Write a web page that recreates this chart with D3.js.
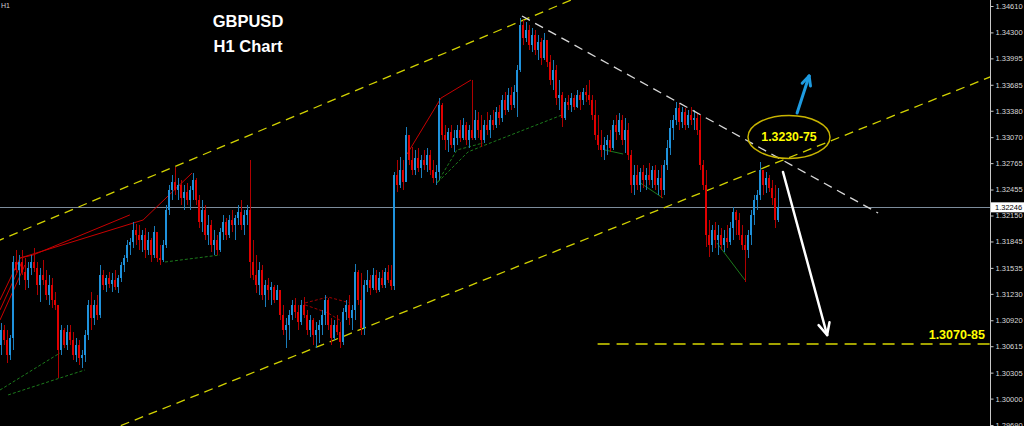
<!DOCTYPE html>
<html><head><meta charset="utf-8">
<script src="https://cdn.jsdelivr.net/npm/d3@7"></script>
<style>html,body{margin:0;padding:0;background:#000;overflow:hidden}svg{display:block}</style>
</head><body>
<svg id="chart" width="1024" height="426"></svg>
<script>
// ---------- DATA (GBPUSD H1) ----------
const closes = [
1.3081,1.3069,1.3051,1.3071,1.3160,1.3151,1.3160,1.3149,1.3139,1.3153,
1.3160,1.3153,1.3133,1.3145,1.3139,1.3122,1.3133,1.3116,1.3110,1.3057,
1.3081,1.3063,1.3078,1.3069,1.3051,1.3063,1.3048,1.3051,1.3075,1.3110,
1.3095,1.3110,1.3098,1.3145,1.3133,1.3142,1.3135,1.3139,1.3131,1.3142,
1.3157,1.3165,1.3180,1.3184,1.3198,1.3192,1.3186,1.3192,1.3175,1.3186,
1.3169,1.3196,1.3165,1.3163,1.3180,1.3221,1.3245,1.3254,1.3245,1.3251,
1.3236,1.3243,1.3233,1.3245,1.3257,1.3233,1.3207,1.3221,1.3192,1.3204,
1.3180,1.3186,1.3175,1.3196,1.3207,1.3192,1.3210,1.3204,1.3212,1.3219,
1.3204,1.3216,1.3221,1.3160,1.3145,1.3133,1.3151,1.3122,1.3133,1.3128,
1.3131,1.3116,1.3128,1.3098,1.3081,1.3086,1.3098,1.3110,1.3102,1.3090,
1.3110,1.3098,1.3081,1.3092,1.3075,1.3081,1.3086,1.3098,1.3116,1.3086,
1.3071,1.3086,1.3078,1.3066,1.3102,1.3110,1.3095,1.3104,1.3149,1.3116,
1.3083,1.3133,1.3139,1.3130,1.3145,1.3128,1.3142,1.3133,1.3149,1.3139,
1.3132,1.3263,1.3251,1.3268,1.3254,1.3310,1.3280,1.3268,1.3283,1.3271,
1.3280,1.3274,1.3286,1.3268,1.3259,1.3266,1.3345,1.3310,1.3304,1.3313,
1.3298,1.3306,1.3315,1.3306,1.3321,1.3304,1.3315,1.3306,1.3327,1.3315,
1.3304,1.3321,1.3315,1.3327,1.3321,1.3337,1.3329,1.3351,1.3339,1.3356,
1.3345,1.3360,1.3386,1.3439,1.3423,1.3433,1.3415,1.3427,1.3409,1.3419,
1.3400,1.3421,1.3395,1.3374,1.3386,1.3353,1.3356,1.3329,1.3348,1.3345,
1.3353,1.3342,1.3356,1.3351,1.3360,1.3356,1.3351,1.3333,1.3310,1.3298,
1.3292,1.3298,1.3304,1.3294,1.3321,1.3313,1.3327,1.3304,1.3315,1.3286,
1.3251,1.3263,1.3251,1.3266,1.3257,1.3263,1.3257,1.3268,1.3251,1.3259,
1.3245,1.3274,1.3294,1.3318,1.3327,1.3341,1.3325,1.3337,1.3321,1.3333,
1.3327,1.3329,1.3315,1.3274,1.3251,1.3192,1.3180,1.3198,1.3186,1.3192,
1.3180,1.3189,1.3184,1.3200,1.3219,1.3210,1.3192,1.3180,1.3175,1.3192,
1.3216,1.3233,1.3239,1.3268,1.3251,1.3259,1.3247,1.3236,1.3210,1.32246
];
const opens = [
1.3063,1.3081,1.3069,1.3051,1.3071,1.3160,1.3151,1.3160,1.3149,1.3139,
1.3153,1.3160,1.3153,1.3133,1.3145,1.3139,1.3122,1.3133,1.3116,1.3110,
1.3057,1.3081,1.3063,1.3078,1.3069,1.3051,1.3063,1.3048,1.3051,1.3075,
1.3110,1.3095,1.3110,1.3098,1.3145,1.3133,1.3142,1.3135,1.3139,1.3131,
1.3142,1.3157,1.3165,1.3180,1.3184,1.3198,1.3192,1.3186,1.3192,1.3175,
1.3186,1.3169,1.3196,1.3165,1.3163,1.3180,1.3221,1.3245,1.3254,1.3245,
1.3251,1.3236,1.3243,1.3233,1.3245,1.3257,1.3233,1.3207,1.3221,1.3192,
1.3204,1.3180,1.3186,1.3175,1.3196,1.3207,1.3192,1.3210,1.3204,1.3212,
1.3219,1.3204,1.3216,1.3221,1.3160,1.3145,1.3133,1.3151,1.3122,1.3133,
1.3128,1.3131,1.3116,1.3128,1.3098,1.3081,1.3086,1.3098,1.3110,1.3102,
1.3090,1.3110,1.3098,1.3081,1.3092,1.3075,1.3081,1.3086,1.3098,1.3116,
1.3086,1.3071,1.3086,1.3078,1.3066,1.3102,1.3110,1.3095,1.3104,1.3149,
1.3116,1.3083,1.3133,1.3139,1.3130,1.3145,1.3128,1.3142,1.3133,1.3149,
1.3139,1.3132,1.3263,1.3251,1.3268,1.3254,1.3310,1.3280,1.3268,1.3283,
1.3271,1.3280,1.3274,1.3286,1.3268,1.3259,1.3266,1.3345,1.3310,1.3304,
1.3313,1.3298,1.3306,1.3315,1.3306,1.3321,1.3304,1.3315,1.3306,1.3327,
1.3315,1.3304,1.3321,1.3315,1.3327,1.3321,1.3337,1.3329,1.3351,1.3339,
1.3356,1.3345,1.3360,1.3386,1.3439,1.3423,1.3433,1.3415,1.3427,1.3409,
1.3419,1.3400,1.3421,1.3395,1.3374,1.3386,1.3353,1.3356,1.3329,1.3348,
1.3345,1.3353,1.3342,1.3356,1.3351,1.3360,1.3356,1.3351,1.3333,1.3310,
1.3298,1.3292,1.3298,1.3304,1.3294,1.3321,1.3313,1.3327,1.3304,1.3315,
1.3286,1.3251,1.3263,1.3251,1.3266,1.3257,1.3263,1.3257,1.3268,1.3251,
1.3259,1.3245,1.3274,1.3294,1.3318,1.3327,1.3341,1.3325,1.3337,1.3321,
1.3333,1.3327,1.3329,1.3315,1.3274,1.3251,1.3192,1.3180,1.3198,1.3186,
1.3192,1.3180,1.3189,1.3184,1.3200,1.3219,1.3210,1.3192,1.3180,1.3175,
1.3192,1.3216,1.3233,1.3239,1.3268,1.3251,1.3259,1.3247,1.3236,1.3210
];
const highs = [
1.3089,1.3086,1.3081,1.3075,1.3167,1.3175,1.3169,1.3175,1.3165,1.3160,
1.3169,1.3177,1.3160,1.3153,1.3163,1.3151,1.3145,1.3142,1.3125,1.3110,
1.3086,1.3083,1.3086,1.3086,1.3078,1.3071,1.3069,1.3057,1.3081,1.3116,
1.3125,1.3116,1.3122,1.3157,1.3151,1.3145,1.3149,1.3148,1.3151,1.3145,
1.3160,1.3169,1.3186,1.3189,1.3207,1.3205,1.3204,1.3198,1.3200,1.3196,
1.3189,1.3203,1.3192,1.3180,1.3186,1.3227,1.3251,1.3263,1.3272,1.3259,
1.3257,1.3251,1.3253,1.3250,1.3265,1.3259,1.3239,1.3233,1.3227,1.3216,
1.3210,1.3198,1.3192,1.3200,1.3216,1.3212,1.3216,1.3221,1.3216,1.3227,
1.3233,1.3221,1.3227,1.3280,1.3186,1.3169,1.3160,1.3157,1.3139,1.3142,
1.3137,1.3133,1.3133,1.3128,1.3110,1.3095,1.3104,1.3116,1.3118,1.3110,
1.3116,1.3119,1.3104,1.3098,1.3095,1.3090,1.3092,1.3104,1.3122,1.3118,
1.3095,1.3092,1.3098,1.3090,1.3106,1.3116,1.3122,1.3110,1.3158,1.3151,
1.3148,1.3139,1.3151,1.3145,1.3153,1.3151,1.3149,1.3151,1.3153,1.3157,
1.3157,1.3266,1.3280,1.3284,1.3280,1.3319,1.3310,1.3295,1.3292,1.3294,
1.3286,1.3292,1.3294,1.3292,1.3280,1.3274,1.3353,1.3347,1.3321,1.3318,
1.3321,1.3315,1.3321,1.3327,1.3329,1.3325,1.3321,1.3374,1.3339,1.3337,
1.3333,1.3327,1.3337,1.3333,1.3339,1.3342,1.3345,1.3356,1.3360,1.3365,
1.3366,1.3368,1.3392,1.3447,1.3444,1.3442,1.3439,1.3435,1.3433,1.3427,
1.3423,1.3429,1.3421,1.3403,1.3398,1.3392,1.3374,1.3360,1.3353,1.3356,
1.3359,1.3356,1.3362,1.3360,1.3365,1.3368,1.3374,1.3356,1.3351,1.3333,
1.3315,1.3307,1.3310,1.3315,1.3327,1.3333,1.3335,1.3333,1.3329,1.3324,
1.3292,1.3274,1.3274,1.3271,1.3274,1.3271,1.3277,1.3273,1.3274,1.3268,
1.3274,1.3280,1.3304,1.3327,1.3333,1.3348,1.3347,1.3342,1.3341,1.3339,
1.3342,1.3339,1.3335,1.3333,1.3280,1.3268,1.3210,1.3204,1.3207,1.3204,
1.3200,1.3198,1.3204,1.3207,1.3225,1.3221,1.3218,1.3204,1.3192,1.3198,
1.3221,1.3239,1.3245,1.3278,1.3268,1.3266,1.3263,1.3257,1.3251,1.3247
];
const lows = [
1.3051,1.3063,1.3042,1.3045,1.3057,1.3145,1.3133,1.3145,1.3128,1.3130,
1.3145,1.3149,1.3122,1.3113,1.3133,1.3116,1.3110,1.3106,1.3104,1.3024,
1.3051,1.3059,1.3057,1.3063,1.3045,1.3043,1.3040,1.3036,1.3043,1.3069,
1.3081,1.3086,1.3092,1.3095,1.3128,1.3125,1.3130,1.3125,1.3128,1.3124,
1.3137,1.3149,1.3160,1.3169,1.3177,1.3180,1.3175,1.3172,1.3165,1.3169,
1.3160,1.3165,1.3160,1.3157,1.3160,1.3177,1.3216,1.3233,1.3239,1.3233,
1.3227,1.3221,1.3227,1.3221,1.3233,1.3227,1.3200,1.3196,1.3186,1.3180,
1.3172,1.3169,1.3169,1.3172,1.3186,1.3186,1.3189,1.3196,1.3186,1.3204,
1.3198,1.3192,1.3204,1.3142,1.3139,1.3124,1.3122,1.3116,1.3108,1.3116,
1.3110,1.3112,1.3118,1.3092,1.3075,1.3059,1.3069,1.3092,1.3095,1.3081,
1.3086,1.3095,1.3075,1.3072,1.3063,1.3059,1.3065,1.3075,1.3086,1.3081,
1.3063,1.3069,1.3075,1.3059,1.3063,1.3092,1.3086,1.3081,1.3092,1.3110,
1.3075,1.3075,1.3125,1.3122,1.3128,1.3124,1.3125,1.3130,1.3130,1.3136,
1.3128,1.3128,1.3243,1.3247,1.3245,1.3259,1.3274,1.3263,1.3263,1.3266,
1.3259,1.3268,1.3266,1.3263,1.3253,1.3251,1.3257,1.3304,1.3292,1.3290,
1.3294,1.3290,1.3298,1.3301,1.3304,1.3298,1.3294,1.3304,1.3304,1.3306,
1.3295,1.3300,1.3310,1.3306,1.3315,1.3318,1.3321,1.3325,1.3333,1.3337,
1.3339,1.3341,1.3331,1.3383,1.3415,1.3419,1.3409,1.3407,1.3403,1.3398,
1.3392,1.3398,1.3389,1.3368,1.3362,1.3345,1.3339,1.3319,1.3327,1.3339,
1.3337,1.3339,1.3341,1.3339,1.3345,1.3348,1.3345,1.3327,1.3304,1.3292,
1.3284,1.3280,1.3286,1.3290,1.3292,1.3304,1.3310,1.3298,1.3288,1.3280,
1.3241,1.3239,1.3245,1.3243,1.3247,1.3245,1.3251,1.3247,1.3245,1.3239,
1.3236,1.3239,1.3268,1.3286,1.3304,1.3321,1.3315,1.3318,1.3315,1.3318,
1.3321,1.3315,1.3310,1.3268,1.3245,1.3178,1.3166,1.3172,1.3177,1.3169,
1.3175,1.3172,1.3177,1.3180,1.3186,1.3192,1.3186,1.3175,1.3137,1.3165,
1.3180,1.3204,1.3221,1.3233,1.3239,1.3241,1.3243,1.3227,1.3200,1.3207
];
const tickValues = [1.34610,1.34300,1.33995,1.33685,1.33380,1.33070,1.32765,1.32455,
  1.32150,1.31845,1.31535,1.31230,1.30920,1.30615,1.30305,1.30000,1.29690];
const bidPrice = 1.32246;

// trend lines: [barIndex, price]
const upperChannel = [[0, 1.3187], [173, 1.3443]];
const lowerChannel = [[39.5, 1.29679], [329.5, 1.33776]];
const resistanceLine = [[173.5, 1.34492], [292.2, 1.32179]];
const targetLevel = {from: 199.2, to: 330, price: 1.30641, label: "1.3070-85", labelPrice: 1.3070};
const zoneLabel = {at: [262.5, 1.33072], text: "1.3230-75"};
const upArrow = [[265.2, 1.33353], [269.2, 1.33788]];
const downArrow = [[260.5, 1.32661], [275.2, 1.30747]];

// indicator zigzag lines
const redLines = [
  [[-0.5,1.31158],[6.2,1.31651]],
  [[-0.5,1.31041],[6.8,1.31604]],
  [[-0.5,1.30923],[7.8,1.31569]],
  [[6.2,1.31651],[10.5,1.31686]],
  [[6.2,1.31651],[47.2,1.32097],[63.5,1.32649]],
  [[10.5,1.31686],[42.8,1.32157]],
  [[135.2,1.32872],[146.5,1.33529],[156.5,1.33741]]
];
const redDashed = [
  [[101.2,1.31123],[108.8,1.31193],[116.2,1.31123]],
  [[101.2,1.31100],[108.8,1.31006],[113.8,1.30900]]
];
const greenDashed = [
  [[-0.5,1.30101],[19.5,1.30536]],
  [[2.2,1.30043],[19.5,1.30242],[27.8,1.30336]],
  [[54.5,1.31604],[72.8,1.31686]],
  [[145.2,1.32532],[151.8,1.32919],[160.5,1.33001]],
  [[145.5,1.32543],[155.5,1.32896],[159.5,1.32954],[186.8,1.33330]]
];
const greenSolid = [
  [[201.2,1.32919],[207.2,1.32872]],
  [[212.5,1.32543],[220.5,1.32355]],
  [[238.5,1.31827],[247.8,1.31393]]
];

// ---------- DRAWING ----------
const svg = d3.select("#chart");
const W = 1024, H = 426, plotRight = 990;
svg.append("rect").attr("width", W).attr("height", H).attr("fill", "#000");

const x = d3.scaleLinear().domain([0, 330]).range([0, 990]);
const y = d3.scaleLinear().domain([1.34610, 1.29690]).range([6, 425]);

svg.append("defs").append("clipPath").attr("id", "plot")
  .append("rect").attr("x", 0).attr("y", 0).attr("width", plotRight).attr("height", H);
const plot = svg.append("g").attr("clip-path", "url(#plot)");

const line = d3.line().x(d => x(d[0]) + 1.5).y(d => y(d[1]));

// bid line
plot.append("line").attr("x1", 0).attr("x2", plotRight)
  .attr("y1", Math.round(y(bidPrice)) + 0.5).attr("y2", Math.round(y(bidPrice)) + 0.5)
  .attr("stroke", "#7d8c9c").attr("stroke-width", 1);

// channel lines (extended)
function extend(p) {
  const s = (p[1][1] - p[0][1]) / (p[1][0] - p[0][0]);
  return [[-2, p[0][1] + s * (-2 - p[0][0])], [332, p[0][1] + s * (332 - p[0][0])]];
}
[upperChannel, lowerChannel].forEach(p => {
  plot.append("path").attr("d", line(extend(p))).attr("fill", "none")
    .attr("stroke", "#d2d200").attr("stroke-width", 1.3).attr("stroke-dasharray", "9,6");
});

// indicator lines
redLines.forEach(p => plot.append("path").attr("d", line(p)).attr("fill", "none")
  .attr("stroke", "#c80000").attr("stroke-width", 1));
redDashed.forEach(p => plot.append("path").attr("d", line(p)).attr("fill", "none")
  .attr("stroke", "#a00000").attr("stroke-width", 1).attr("stroke-dasharray", "3,2"));
greenDashed.forEach(p => plot.append("path").attr("d", line(p)).attr("fill", "none")
  .attr("stroke", "#1c7a1c").attr("stroke-width", 1).attr("stroke-dasharray", "3,2"));
greenSolid.forEach(p => plot.append("path").attr("d", line(p)).attr("fill", "none")
  .attr("stroke", "#1c7a1c").attr("stroke-width", 1));

// candles
const bars = plot.append("g").attr("shape-rendering", "crispEdges");
closes.forEach((c, i) => {
  const o = opens[i];
  const hi = Math.max(highs[i], o, c), lo = Math.min(lows[i], o, c);
  const up = c >= o;
  const cx = x(i);
  bars.append("line").attr("x1", cx + 1.5).attr("x2", cx + 1.5)
    .attr("y1", y(hi)).attr("y2", y(lo))
    .attr("stroke", up ? "#1a7dbb" : "#b00000").attr("stroke-width", 1);
  const top = y(Math.max(o, c)), bot = y(Math.min(o, c));
  bars.append("rect").attr("x", cx).attr("y", top).attr("width", 2)
    .attr("height", Math.max(1, bot - top))
    .attr("fill", up ? "#1f92dc" : "#e00000");
});

// resistance (white dashed)
plot.append("path").attr("d", line(resistanceLine)).attr("fill", "none")
  .attr("stroke", "#d8d8d8").attr("stroke-width", 1.3).attr("stroke-dasharray", "9,6");

// target level
plot.append("line").attr("x1", x(targetLevel.from)).attr("x2", plotRight)
  .attr("y1", y(targetLevel.price)).attr("y2", y(targetLevel.price))
  .attr("stroke", "#d8d800").attr("stroke-width", 1.3).attr("stroke-dasharray", "12,7");
svg.append("text").attr("x", x(329) - 2).attr("y", y(targetLevel.labelPrice))
  .attr("text-anchor", "end").attr("fill", "#ffff00")
  .attr("font-family", "Liberation Sans, Arial, sans-serif").attr("font-weight", "bold")
  .attr("font-size", 12.5).text(targetLevel.label);

// ellipse zone
const ex = x(zoneLabel.at[0]) + 1.5, ey = y(zoneLabel.at[1]);
svg.append("ellipse").attr("cx", ex).attr("cy", ey).attr("rx", 41).attr("ry", 21.5)
  .attr("fill", "none").attr("stroke", "#c8b400").attr("stroke-width", 1.5);
svg.append("text").attr("x", ex).attr("y", ey + 4.5).attr("text-anchor", "middle")
  .attr("fill", "#ffff00").attr("font-family", "Liberation Sans, Arial, sans-serif")
  .attr("font-weight", "bold").attr("font-size", 12.3).text(zoneLabel.text);

// arrows
function arrow(p, color, w, head) {
  const x1 = x(p[0][0]) + 1.5, y1 = y(p[0][1]), x2 = x(p[1][0]) + 1.5, y2 = y(p[1][1]);
  svg.append("line").attr("x1", x1).attr("y1", y1).attr("x2", x2).attr("y2", y2)
    .attr("stroke", color).attr("stroke-width", w).attr("stroke-linecap", "round");
  const a = Math.atan2(y2 - y1, x2 - x1);
  [-0.45, 0.45].forEach(d => {
    svg.append("line").attr("x1", x2).attr("y1", y2)
      .attr("x2", x2 - head * Math.cos(a + d)).attr("y2", y2 - head * Math.sin(a + d))
      .attr("stroke", color).attr("stroke-width", w).attr("stroke-linecap", "round");
  });
}
arrow(upArrow, "#1e9be0", 3, 10);
arrow(downArrow, "#ffffff", 2.5, 13);

// axis
const axis = d3.axisRight(y).tickValues(tickValues).tickSize(3).tickPadding(2)
  .tickFormat(d3.format(".5f"));
const ag = svg.append("g").attr("transform", `translate(${plotRight + 0.5},0)`).call(axis);
ag.select(".domain").attr("stroke", "#c8c8c8").attr("d", `M0,0V${H}`);
ag.selectAll(".tick line").attr("stroke", "#c8c8c8");
ag.selectAll(".tick text").attr("fill", "#d8d8d8")
  .attr("font-family", "Liberation Sans, Arial, sans-serif").attr("font-size", 7.5);

// bid label
const by = y(bidPrice);
svg.append("rect").attr("x", plotRight + 1).attr("y", by - 5).attr("width", W - plotRight - 1)
  .attr("height", 10).attr("fill", "#ffffff");
svg.append("text").attr("x", plotRight + 5).attr("y", by + 3).attr("fill", "#000")
  .attr("font-family", "Liberation Sans, Arial, sans-serif").attr("font-size", 7.5)
  .text(d3.format(".5f")(bidPrice));

// titles
svg.append("text").attr("x", 1).attr("y", 8).attr("fill", "#cfcfcf")
  .attr("font-family", "Liberation Sans, Arial, sans-serif").attr("font-size", 7).text("H1");
[["GBPUSD", 27], ["H1 Chart", 52]].forEach(([t, yy]) => {
  svg.append("text").attr("x", 248).attr("y", yy).attr("text-anchor", "middle")
    .attr("fill", "#ffffff").attr("font-family", "Liberation Sans, Arial, sans-serif")
    .attr("font-weight", "bold").attr("font-size", 16.5).text(t);
});
</script>
</body></html>
